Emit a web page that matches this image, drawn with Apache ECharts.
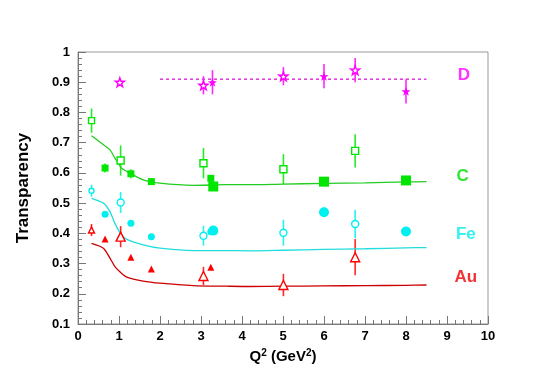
<!DOCTYPE html>
<html><head><meta charset="utf-8">
<script src="https://cdn.jsdelivr.net/npm/echarts@6/dist/echarts.min.js"></script>
<style>html,body{margin:0;padding:0;background:#fff}#c{width:540px;height:389px}</style>
</head><body><div id="c"></div>
<script>
// ---- data ----
const xTicks = [0,1,2,3,4,5,6,7,8,9,10];
const yTicks = [0.1,0.2,0.3,0.4,0.5,0.6,0.7,0.8,0.9,1];

// D (deuterium)
const dOpenX = [1.02, 3.06, 5.01, 6.76];
const dOpenY = [0.90, 0.89, 0.92, 0.94];
const dOpenErr = [0, 0.03, 0.03, 0.04];
const dFillX = [3.28, 6.0, 8.0];
const dFillY = [0.90, 0.92, 0.87];
const dFillErr = [0.04, 0.04, 0.04];
const dLineX = [2.0, 8.5];
const dLineY = [0.91, 0.91];

// shared x positions of experiments
const xOpen = [0.33, 1.04, 3.06, 5.01, 6.76];
const xSmall = [0.66, 1.29, 1.79, 3.24];
const xLarge = [3.30, 6.0, 8.0];

// Carbon
const cOpen = [0.773, 0.641, 0.632, 0.612, 0.673];
const cOpenErr = [0.04, 0.05, 0.05, 0.05, 0.055];
const cSmall = [0.616, 0.597, 0.571, 0.582];
const cSmallErr = [0.015, 0.015, 0.01, 0.01];
const cLarge = [0.555, 0.571, 0.575];

// Iron
const feOpen = [0.541, 0.502, 0.392, 0.402, 0.431];
const feOpenErr = [0.02, 0.035, 0.033, 0.043, 0.047];
const feSmall = [0.463, 0.433, 0.389, 0.405];
const feLarge = [0.409, 0.470, 0.406];
const feLargeErr = [0, 0.015, 0];

// Gold
const auOpen = [0.411, 0.389, 0.259, 0.229, 0.321];
const auOpenErr = [0.02, 0.035, 0.03, 0.037, 0.06];
const auSmall = [0.381, 0.321, 0.282, 0.288];

// Calculation curves
const curveX = [0.33, 0.62, 0.78, 0.90, 1.06, 1.19, 1.59, 2.0, 2.81, 3.63, 4.2, 5.0, 6.0, 7.0, 8.0, 8.5];
const cCurve = [0.723, 0.693, 0.676, 0.649, 0.616, 0.605, 0.577, 0.566, 0.559, 0.561, 0.561, 0.563, 0.565, 0.567, 0.570, 0.571];
const feCurve = [0.516, 0.500, 0.472, 0.433, 0.395, 0.380, 0.362, 0.351, 0.343, 0.343, 0.342, 0.344, 0.347, 0.349, 0.352, 0.353];
const auCurve = [0.367, 0.351, 0.318, 0.290, 0.268, 0.255, 0.242, 0.235, 0.227, 0.225, 0.224, 0.225, 0.226, 0.227, 0.228, 0.229];

// nucleus labels
const labelNames = ['D', 'C', 'Fe', 'Au'];
const labelX = [9.41, 9.38, 9.46, 9.46];
const labelY = [0.922, 0.59, 0.398, 0.256];

// ---- styles ----
const MAG = '#ff00ff', GRN = '#00e600', CYN = '#00f0f0', RED = '#ff0000';
const STAR = 'path://M50,0 L61.8,35.1 L97.6,34.5 L69.1,56.9 L79.4,90.5 L50,70 L20.6,90.5 L30.9,56.9 L2.4,34.5 L38.2,35.1 Z';
const OPEN_SQ_SIZES = [6, 7, 7, 7, 7];
const OPEN_CI_SIZES = [5, 7, 7, 7, 7];
const OPEN_TR_SIZES = [6, 9, 9, 9, 9];

const series = [];
function zip(xs, ys, es) { return xs.map((x, i) => [x, ys[i], es ? es[i] : 0]); }
function addErr(xs, ys, es, color) {
  series.push({
    type: 'custom', z: 2, silent: true,
    data: zip(xs, ys, es),
    renderItem: function (params, api) {
      const x = api.value(0), y = api.value(1), e = api.value(2);
      if (!e) return null;
      const p1 = api.coord([x, y - e]), p2 = api.coord([x, y + e]);
      return { type: 'line', shape: { x1: p1[0], y1: p1[1], x2: p2[0], y2: p2[1] },
        style: { stroke: color, lineWidth: 1.6, opacity: 0.85 } };
    }
  });
}
function addPts(xs, ys, es, color, symbol, size, open) {
  if (es) addErr(xs, ys, es, color);
  series.push({
    type: 'scatter', z: 4, symbol: symbol,
    symbolSize: Array.isArray(size) ? function (v, p) { return size[p.dataIndex]; } : size,
    data: zip(xs, ys, es),
    itemStyle: open ? { color: '#ffffff', borderColor: color, borderWidth: 1.4, opacity: 1 }
                    : { color: color, opacity: 1 }
  });
}
function addCurve(xs, ys, color, dashed) {
  series.push({
    type: 'line', z: 3, showSymbol: false, smooth: dashed ? false : 0.25,
    data: xs.map((x, i) => [x, ys[i]]),
    lineStyle: { color: color, width: dashed ? 1.6 : 1.3, type: dashed ? [3, 3] : 'solid' }
  });
}

// D
addCurve(dLineX, dLineY, '#e040e0', true);
addPts(dOpenX, dOpenY, dOpenErr, MAG, STAR, 9, true);
addPts(dFillX, dFillY, dFillErr, MAG, STAR, 9, false);
// C
addCurve(curveX, cCurve, '#22cc22');
addPts(xOpen, cOpen, cOpenErr, GRN, 'rect', OPEN_SQ_SIZES, true);
addPts(xSmall, cSmall, cSmallErr, GRN, 'rect', 7, false);
addPts(xLarge, cLarge, null, GRN, 'rect', 10, false);
// Fe
addCurve(curveX, feCurve, '#22dddd');
addPts(xOpen, feOpen, feOpenErr, CYN, 'circle', OPEN_CI_SIZES, true);
addPts(xSmall, feSmall, null, CYN, 'circle', 7, false);
addPts(xLarge, feLarge, feLargeErr, CYN, 'circle', 10, false);
// Au
addCurve(curveX, auCurve, '#cc0000');
addPts(xOpen, auOpen, auOpenErr, RED, 'triangle', OPEN_TR_SIZES, true);
addPts(xSmall, auSmall, null, RED, 'triangle', 7, false);

// labels
const labelColors = [MAG, '#00dd00', '#00eeee', '#ee0000'];
series.push({
  type: 'scatter', z: 5, symbolSize: 0, silent: true,
  data: labelNames.map((n, i) => ({ value: [labelX[i], labelY[i]], name: n,
    label: { show: true, position: 'inside', formatter: n, color: labelColors[i],
      fontFamily: 'Liberation Sans', fontWeight: 'bold', fontSize: 17 } }))
});

const chart = echarts.init(document.getElementById('c'));
chart.setOption({
  animation: false,
  backgroundColor: '#fff',
  grid: { left: 78, right: 52, top: 52, bottom: 65, show: true, borderColor: '#999', borderWidth: 1 },
  xAxis: {
    type: 'value', min: xTicks[0], max: xTicks[xTicks.length - 1], interval: 1,
    axisLine: { onZero: false, lineStyle: { color: '#777' } },
    axisTick: { inside: true, length: 8, lineStyle: { color: '#777' } },
    minorTick: { show: true, splitNumber: 5, length: 4, lineStyle: { color: '#777' } },
    splitLine: { show: false },
    axisLabel: { color: '#000', fontFamily: 'Liberation Sans', fontWeight: 'bold', fontSize: 13, margin: 6 },
    name: '{a|Q}{s|2}{a| (GeV}{s|2}{a|)}', nameLocation: 'middle', nameGap: 22,
    nameTextStyle: { rich: {
      a: { fontFamily: 'Liberation Sans', fontWeight: 'bold', fontSize: 15, color: '#000' },
      s: { fontFamily: 'Liberation Sans', fontWeight: 'bold', fontSize: 10, color: '#000', verticalAlign: 'top', padding: [0, 0, 8, 0] }
    } }
  },
  yAxis: {
    type: 'value', min: yTicks[0], max: yTicks[yTicks.length - 1], interval: 0.1,
    axisLine: { onZero: false, lineStyle: { color: '#777' } },
    axisTick: { inside: true, length: 8, lineStyle: { color: '#777' } },
    minorTick: { show: true, splitNumber: 5, length: 4, lineStyle: { color: '#777' } },
    splitLine: { show: false },
    axisLabel: { color: '#000', fontFamily: 'Liberation Sans', fontWeight: 'bold', fontSize: 13, margin: 8,
      formatter: v => (Math.round(v * 10) / 10).toString() },
    name: 'Transparency', nameLocation: 'middle', nameGap: 46, nameRotate: 90,
    nameTextStyle: { color: '#000', fontFamily: 'Liberation Sans', fontWeight: 'bold', fontSize: 17 }
  },
  series: series
});
</script></body></html>
